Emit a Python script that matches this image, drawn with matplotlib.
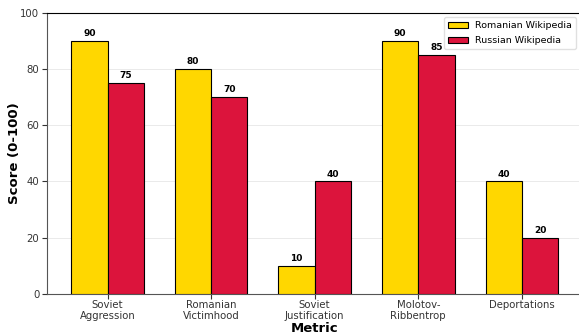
import numpy as np
import matplotlib.pyplot as plt

metrics = ["Soviet\nAggression", "Romanian\nVictimhood", "Soviet\nJustification",
           "Molotov-\nRibbentrop", "Deportations"]
romanian = [90, 80, 10, 90, 40]
russian = [75, 70, 40, 85, 20]

x = np.arange(len(metrics))
w = 0.35

fig = plt.figure(figsize=(5.79, 3.34), dpi=100)
ax = fig.add_axes([0.081, 0.12, 0.925, 0.842])

b1 = ax.bar(x - w/2, romanian, w, color="#FFD700", edgecolor="black", linewidth=0.8,
            label="Romanian Wikipedia", zorder=3)
b2 = ax.bar(x + w/2, russian, w, color="#DC143C", edgecolor="black", linewidth=0.8,
            label="Russian Wikipedia", zorder=3)

for bars in (b1, b2):
    for b in bars:
        ax.text(b.get_x() + b.get_width()/2, b.get_height() + 1, f"{int(b.get_height())}",
                ha="center", va="bottom", fontsize=6.5, fontweight="bold")

ax.set_ylim(0, 100)
ax.set_yticks([0, 20, 40, 60, 80, 100])
ax.set_xticks(x)
ax.set_xticklabels(metrics, fontsize=7.3, linespacing=1.05)
ax.tick_params(axis="y", labelsize=7.3, colors="#333333", pad=2)
ax.tick_params(axis="x", colors="#333333", pad=1)
ax.set_ylabel("Score (0-100)", fontsize=9.5, fontweight="bold")
ax.set_xlabel("Metric", fontsize=9.5, fontweight="bold")
ax.yaxis.set_label_coords(-0.049, 0.5)
ax.xaxis.set_label_coords(0.5, -0.1)
ax.yaxis.grid(True, color="#e6e6e6", linewidth=0.6, zorder=0)
ax.set_axisbelow(True)
for s in ("left", "bottom"):
    ax.spines[s].set_color("#555555")
ax.legend(loc="upper right", fontsize=6.8, framealpha=0.9, edgecolor="#dddddd",
          handlelength=2.1, labelspacing=0.65, bbox_to_anchor=(0.997, 1.0))

fig.savefig("out.png", dpi=100)
